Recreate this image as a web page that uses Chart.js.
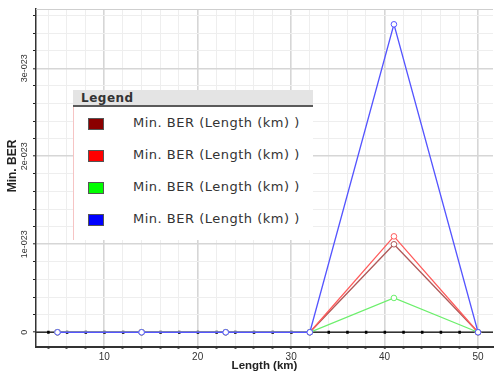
<!DOCTYPE html>
<html lang="en">
<head>
    <meta charset="UTF-8">
    <title>Min. BER vs Length</title>
    <script src="https://cdn.jsdelivr.net/npm/chart.js"></script>
    <style>
        body { margin: 0; background: #fff; }
        .wrap { position: relative; width: 498px; height: 371px; }
        .legend {
            position: absolute;
            left: 73px;
            top: 90px;
            width: 240px;
            height: 150px;
            background: #fff;
            font-family: "DejaVu Sans", sans-serif;
            color: #333;
        }
        .legend .head {
            height: 15px;
            background: #e4e4e4;
            border-bottom: 2px solid #5a5a5a;
            font-weight: 700;
            font-size: 12px;
            letter-spacing: 0.5px;
            line-height: 16px;
            padding-left: 8px;
        }
        .legend .body {
            position: absolute;
            top: 17px; bottom: 0; left: 0; right: 0;
            border-left: 1px solid #f6c4c4;
        }
        .legend .item {
            position: absolute;
            left: 14px;
            height: 14px;
            font-size: 13px;
            letter-spacing: 0.5px;
            line-height: 14px;
        }
        .legend .sw {
            position: absolute;
            left: 0; top: 1px;
            width: 14px; height: 10px;
            border: 1px solid #555;
        }
        .legend .txt { position: absolute; left: 45px; top: -1px; white-space: nowrap; }
    </style>
</head>
<body>
<div class="wrap">
    <canvas id="berChart"></canvas>
    <div class="legend" id="legend">
        <div class="head">Legend</div>
        <div class="body" id="legendBody"></div>
    </div>
</div>
<script>
// data
const lengthKm = [5, 14, 23, 32, 41, 50];
const berDarkRed = [0, 0, 0, 0, 1.0e-23, 0];
const berRed = [0, 0, 0, 0, 1.09e-23, 0];
const berGreen = [0, 0, 0, 0, 0.39e-23, 0];
const berBlue = [0, 0, 0, 0, 3.5e-23, 0];
const seriesLabels = ['Min. BER (Length (km) )', 'Min. BER (Length (km) )', 'Min. BER (Length (km) )', 'Min. BER (Length (km) )'];
const xTickLabels = [10, 20, 30, 40, 50];
const yTickValues = [0, 1e-23, 2e-23, 3e-23];
const yTickLabels = ['0', '1e-023', '2e-023', '3e-023'];

const swatchColors = ['#8b0000', '#ff0000', '#00ff00', '#0000ff'];
const lineColors = ['#b05a5a', '#ff5c5c', '#6cef6c', '#5555ff'];

const toPoints = ys => lengthKm.map((x, i) => ({ x: x, y: ys[i] }));
const allSeries = [berDarkRed, berRed, berGreen, berBlue];
const drawOrder = [3, 2, 1, 0];

const isMajorY = v => Math.abs(v / 1e-23 - Math.round(v / 1e-23)) < 1e-6;

// legend box
const lb = document.getElementById('legendBody');
seriesLabels.forEach((lab, i) => {
    const it = document.createElement('div');
    it.className = 'item';
    it.style.top = (10 + i * 32) + 'px';
    it.innerHTML = '<span class="sw" style="background:' + swatchColors[i] + '"></span><span class="txt"></span>';
    it.querySelector('.txt').textContent = lab;
    lb.appendChild(it);
});

// y labels + y title drawn rotated, plus zero line dots and top border
const axisExtras = {
    id: 'axisExtras',
    beforeDatasetsDraw(chart) {
        const { ctx, chartArea, scales } = chart;
        ctx.save();
        ctx.strokeStyle = '#cfcfcf';
        ctx.lineWidth = 1;
        ctx.beginPath();
        ctx.moveTo(chartArea.left, chartArea.top + 0.5);
        ctx.lineTo(chartArea.right, chartArea.top + 0.5);
        ctx.stroke();
        // zero line
        const y0 = scales.y.getPixelForValue(0);
        ctx.strokeStyle = '#333';
        ctx.lineWidth = 1.5;
        ctx.beginPath();
        ctx.moveTo(chartArea.left, y0);
        ctx.lineTo(chartArea.right, y0);
        ctx.stroke();
        ctx.fillStyle = '#000';
        scales.x.ticks.forEach(t => {
            const px = scales.x.getPixelForValue(t.value);
            ctx.fillRect(px - 1, y0 - 1.5, 2.5, 3);
        });
        ctx.restore();
    },
    afterDraw(chart) {
        const { ctx, scales } = chart;
        ctx.save();
        ctx.fillStyle = '#333';
        ctx.font = '9px "Liberation Sans", Arial, sans-serif';
        ctx.textAlign = 'center';
        ctx.textBaseline = 'middle';
        yTickValues.forEach((v, i) => {
            const py = scales.y.getPixelForValue(v);
            ctx.save();
            ctx.translate(25, py);
            ctx.rotate(-Math.PI / 2);
            ctx.fillText(yTickLabels[i], 0, 0);
            ctx.restore();
        });
        ctx.font = 'bold 12px "Liberation Sans Narrow", "Liberation Sans", Arial, sans-serif';
        ctx.fillStyle = '#222';
        ctx.translate(13, 166);
        ctx.rotate(-Math.PI / 2);
        ctx.fillText('Min. BER', 0, 0);
        ctx.restore();
    }
};

new Chart(document.getElementById('berChart'), {
    type: 'line',
    data: {
        datasets: allSeries.map((ys, i) => ({
            label: seriesLabels[i],
            data: toPoints(ys),
            borderColor: lineColors[i],
            backgroundColor: '#fff',
            pointBorderColor: lineColors[i],
            pointBackgroundColor: '#fff',
            borderWidth: 1.3,
            pointRadius: 2.8,
            pointBorderWidth: 1,
            tension: 0,
            order: drawOrder[i]
        }))
    },
    options: {
        responsive: true,
        maintainAspectRatio: false,
        animation: false,
        layout: { padding: { top: 9, left: 0, right: 0, bottom: 0 } },
        plugins: {
            legend: { display: false },
            tooltip: { enabled: false }
        },
        scales: {
            x: {
                type: 'linear',
                min: 2.7,
                max: 51.6,
                afterBuildTicks: s => {
                    const t = [];
                    for (let v = 4; v <= 50; v += 2) t.push({ value: v });
                    s.ticks = t;
                },
                afterFit: s => { s.height = 24.3; s.paddingLeft = 0; s.paddingRight = 0; },
                ticks: {
                    autoSkip: false,
                    maxRotation: 0,
                    padding: 3,
                    color: '#333',
                    font: { family: '"Liberation Sans", Arial, sans-serif', size: 10 },
                    callback: v => xTickLabels.includes(v) ? String(v) : ''
                },
                grid: {
                    color: c => (c.tick && c.tick.value % 10 === 0) ? '#d6d6d6' : '#eeeeee',
                    lineWidth: c => (c.tick && c.tick.value % 10 === 0) ? 1.6 : 1,
                    tickColor: '#111',
                    tickLength: 2,
                    tickWidth: 2
                },
                border: { color: '#333', width: 2 },
                title: {
                    display: true,
                    text: 'Length (km)',
                    color: '#222',
                    font: { family: '"Liberation Sans", Arial, sans-serif', size: 11.5, weight: 'bold' },
                    padding: { top: 0, bottom: -2 }
                }
            },
            y: {
                type: 'linear',
                min: -0.164e-23,
                max: 3.674e-23,
                afterBuildTicks: s => {
                    const t = [];
                    for (let k = 0; k <= 18; k++) t.push({ value: k * 0.2e-23 });
                    s.ticks = t;
                },
                afterFit: s => { s.width = 36; s.paddingTop = 0; s.paddingBottom = 0; },
                ticks: { display: false },
                grid: {
                    color: c => (c.tick && isMajorY(c.tick.value)) ? '#d6d6d6' : '#eeeeee',
                    lineWidth: c => (c.tick && isMajorY(c.tick.value)) ? 1.6 : 1,
                    tickColor: '#222',
                    tickLength: 3,
                    tickWidth: 1
                },
                border: { color: '#333', width: 1.5 }
            }
        }
    },
    plugins: [axisExtras]
});
</script>
</body>
</html>
